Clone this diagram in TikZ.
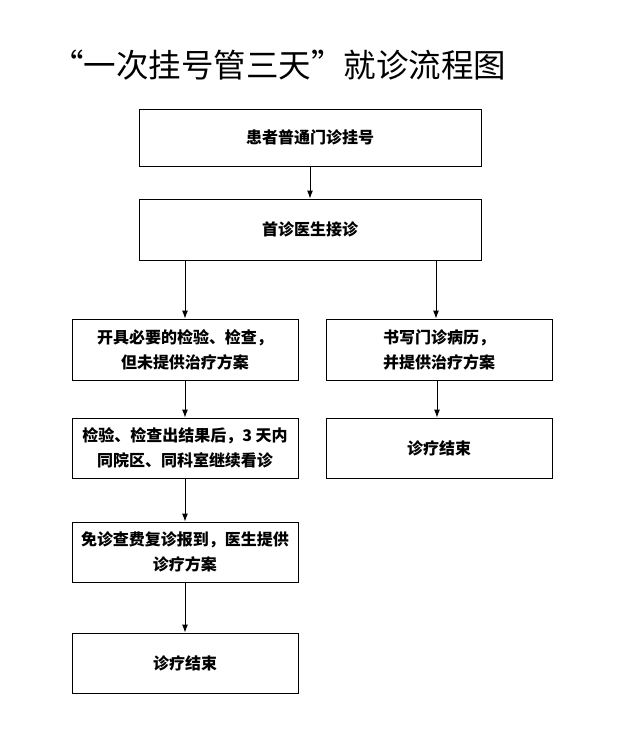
\documentclass[tikz,border=0pt]{standalone}
\usepackage{fontspec}
\newfontfamily\cjk{Noto Sans CJK SC}
\usepackage{tikz}
\usetikzlibrary{
	arrows.meta,									% 箭头样式
	calc,											% 坐标计算
	positioning,									% 节点的摆放
}

\begin{document}
\begin{tikzpicture}[x=1pt, y=-1pt,
		box/.style={draw, line width=0.9pt, minimum height=60pt, inner sep=2pt, align=center,
			font={\cjk\bfseries\fontsize{16}{25}\selectfont}},
		wide/.style={box, minimum width=342pt},
		narrow/.style={box, minimum width=226pt},
		flow/.style={line width=0.9pt, -{Latex[length=8pt, width=6pt]}}]
		\useasboundingbox (0,0) rectangle (622,756);
		\node [font={\cjk\fontsize{32.5}{32.5}\selectfont}, inner sep=0pt] (title) at (279,65) {“一次挂号管三天”就诊流程图};
		\node [wide, minimum height=57pt] (reg) at (310,137.5) {患者普通门诊挂号};
		\node [wide, minimum height=61pt] (first) at (310,229.5) {首诊医生接诊};
		\node [narrow, minimum height=61pt] (exam) at (185,349.5) {开具必要的检验、检查，\\但未提供治疗方案};
		\node [narrow, minimum height=61pt] (record) at (439,349.5) {书写门诊病历，\\并提供治疗方案};
		\node [narrow] (result) at (185,448) {检验、检查出结果后，3 天内\\同院区、同科室继续看诊};
		\node [narrow] (endR) at (439,448) {诊疗结束};
		\node [narrow] (revisit) at (185,552) {免诊查费复诊报到，医生提供\\诊疗方案};
		\node [narrow] (endL) at (185,663) {诊疗结束};
		\draw [flow] (reg) -- (first);
		\draw [flow] (first.south -| exam.north) -- (exam);
		\draw [flow] ($(first.south -| record.north) + (-3,0)$) -- ($(record.north) + (-3,0)$);
		\draw [flow] (exam) -- (result);
		\draw [flow] ($(record.south) + (-2,0)$) -- ($(endR.north) + (-2,0)$);
		\draw [flow] (result) -- (revisit);
		\draw [flow] (revisit) -- (endL);
	\end{tikzpicture}
\end{document}
